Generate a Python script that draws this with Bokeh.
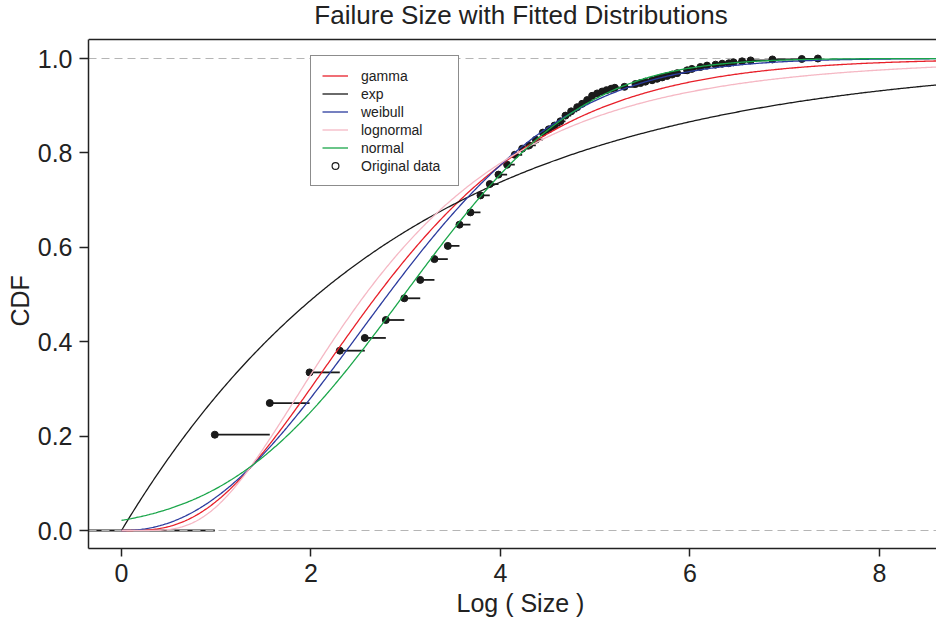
import math
import numpy as np
from bokeh.plotting import figure
from bokeh.models import (Range1d, FixedTicker, Legend, LegendItem,
                          Title, Label, NumeralTickFormatter, ColumnDataSource)
from bokeh.embed import file_html
from bokeh.resources import INLINE

# ---------------- data ----------------
TITLE = "Failure Size with Fitted Distributions"
X_LABEL = "Log ( Size )"
Y_LABEL = "CDF"
X_TICKS = [0, 2, 4, 6, 8]
Y_TICKS = [0.0, 0.2, 0.4, 0.6, 0.8, 1.0]

# empirical CDF of log(size)
data_x = [0.985, 1.565, 1.985, 2.304, 2.568, 2.790, 2.985, 3.153, 3.303, 3.444,
          3.567, 3.683, 3.789, 3.887, 3.979, 4.070, 4.151, 4.229, 4.303, 4.373,
          4.447, 4.510, 4.570, 4.633, 4.686, 4.746, 4.810, 4.862, 4.915, 4.967,
          5.020, 5.073, 5.119, 5.168, 5.207, 5.309, 5.425, 5.478, 5.530, 5.600,
          5.654, 5.707, 5.760, 5.812, 5.865, 5.970, 6.020, 6.110, 6.180, 6.270,
          6.340, 6.410, 6.460, 6.550, 6.640, 6.870, 7.180, 7.350]
data_y = [0.203, 0.270, 0.335, 0.381, 0.408, 0.446, 0.492, 0.531, 0.575, 0.603,
          0.648, 0.674, 0.710, 0.734, 0.754, 0.775, 0.796, 0.809, 0.816, 0.828,
          0.843, 0.850, 0.858, 0.867, 0.879, 0.888, 0.897, 0.904, 0.912, 0.921,
          0.926, 0.930, 0.933, 0.936, 0.938, 0.940, 0.946, 0.948, 0.951, 0.954,
          0.957, 0.960, 0.963, 0.966, 0.969, 0.975, 0.978, 0.982, 0.985, 0.987,
          0.989, 0.990, 0.992, 0.994, 0.996, 0.998, 0.999, 1.000]

dist_names = ["gamma", "exp", "weibull", "lognormal", "normal"]
dist_colors = ["#e8202a", "#1a1a1a", "#2b3b9e", "#f5b8c4", "#1aa64a"]

# fitted parameters
gamma_shape, gamma_rate = 3.5, 1.173
exp_rate = 0.335
weibull_shape, weibull_scale = 2.17, 3.33
lnorm_meanlog, lnorm_sdlog = 0.945, 0.576
norm_mean, norm_sd = 2.984, 1.473

# plotting box (R-style box) limits
X_MIN, X_MAX = -0.3483, 8.602
Y_MIN, Y_MAX = -0.0381, 1.0403
Y_TOP = 1.1229          # canvas top (room for the title inside the frame)
CURVE_END = 8.71


# ---------------- distribution CDFs ----------------
def gamma_cdf(x, a, rate):
    z = rate * x
    if z <= 0:
        return 0.0
    term = 1.0 / a
    s = term
    n = 1
    while n < 1000:
        term *= z / (a + n)
        s += term
        if term < 1e-14 * s:
            break
        n += 1
    return math.exp(a * math.log(z) - z - math.lgamma(a)) * s


def exp_cdf(x, rate):
    return 1.0 - math.exp(-rate * x) if x > 0 else 0.0


def weibull_cdf(x, k, lam):
    return 1.0 - math.exp(-((x / lam) ** k)) if x > 0 else 0.0


def lnorm_cdf(x, m, s):
    if x <= 0:
        return 0.0
    return 0.5 * (1.0 + math.erf((math.log(x) - m) / (s * math.sqrt(2.0))))


def norm_cdf(x, m, s):
    return 0.5 * (1.0 + math.erf((x - m) / (s * math.sqrt(2.0))))


grid = np.linspace(0.0, CURVE_END, 600)
curves = [
    [gamma_cdf(v, gamma_shape, gamma_rate) for v in grid],
    [exp_cdf(v, exp_rate) for v in grid],
    [weibull_cdf(v, weibull_shape, weibull_scale) for v in grid],
    [lnorm_cdf(v, lnorm_meanlog, lnorm_sdlog) for v in grid],
    [norm_cdf(v, norm_mean, norm_sd) for v in grid],
]

# ---------------- figure ----------------
FONT = "Liberation Sans"
TXT = "#222222"

p = figure(width=936, height=626, output_backend="svg", toolbar_location=None,
           title=None,
           x_range=Range1d(X_MIN, X_MAX), y_range=Range1d(Y_MIN, Y_TOP),
           min_border_left=88, min_border_right=0, min_border_top=0,
           min_border_bottom=78)
p.outline_line_color = None
p.xgrid.visible = False
p.ygrid.visible = False
p.background_fill_color = "white"
p.border_fill_color = "white"

for ax in (p.xaxis[0], p.yaxis[0]):
    ax.axis_line_color = TXT
    ax.axis_line_width = 1.5
    ax.major_tick_line_color = TXT
    ax.major_tick_line_width = 1.5
    ax.major_tick_in = 0
    ax.minor_tick_line_color = None
    ax.major_label_text_font = FONT
    ax.major_label_text_font_size = "25px"
    ax.major_label_text_color = TXT

p.xaxis[0].ticker = FixedTicker(ticks=X_TICKS)
p.xaxis[0].major_tick_out = 8
p.xaxis[0].major_label_standoff = 7

p.yaxis[0].ticker = FixedTicker(ticks=Y_TICKS)
p.yaxis[0].bounds = (Y_MIN, Y_MAX)
p.yaxis[0].formatter = NumeralTickFormatter(format="0.0")
p.yaxis[0].major_tick_out = 9
p.yaxis[0].major_label_standoff = 7
p.yaxis[0].major_label_orientation = "horizontal"

ylab = Title(text=Y_LABEL, text_font=FONT, text_font_size="25px",
             text_font_style="normal", text_color=TXT, align="left",
             offset=222, standoff=2)
p.add_layout(ylab, "left")

xlab = Title(text=X_LABEL, text_font=FONT, text_font_size="25px",
             text_font_style="normal", text_color=TXT, align="left",
             offset=368, standoff=5)
p.add_layout(xlab, "below")

# chart title (screen pixels from the frame's bottom-left corner)
title_lbl = Label(x=432.5, y=534, x_units="screen", y_units="screen",
                  text=TITLE, text_font=FONT, text_font_size="26px",
                  text_color=TXT, text_align="center", text_baseline="middle")
p.add_layout(title_lbl)

# top side of the box
p.line(x=[X_MIN, X_MAX], y=[Y_MAX, Y_MAX], line_color=TXT, line_width=1.5)

# ECDF: initial flat part at 0
p.segment(x0=[X_MIN], y0=[0.0], x1=[data_x[0]], y1=[0.0],
          line_color="#1a1a1a", line_width=1.8)

# reference dashed lines at 0 and 1
for yy in (0.0, 1.0):
    p.line(x=[X_MIN, X_MAX], y=[yy, yy], line_color="#b5b5b5",
           line_width=1.2, line_dash="8 5")

# ECDF steps
step_src = ColumnDataSource(dict(x0=data_x[:-1], x1=data_x[1:], y=data_y[:-1]))
p.segment(x0="x0", y0="y", x1="x1", y1="y", source=step_src,
          line_color="#1a1a1a", line_width=1.8)
p.scatter(x=data_x, y=data_y, size=7, marker="circle",
          fill_color="#1a1a1a", line_color="#1a1a1a")

# fitted curves
renderers = []
for name, col, yy in zip(dist_names, dist_colors, curves):
    r = p.line(x=list(grid), y=yy, line_color=col, line_width=1.3)
    renderers.append(r)

# legend dummy for original data (open circle), placed outside visible range
dummy = p.scatter(x=[-10], y=[-10], size=5, marker="circle",
                  fill_color=None, line_color="#1a1a1a", line_width=1.2)

items = [LegendItem(label=n, renderers=[r]) for n, r in zip(dist_names, renderers)]
items.append(LegendItem(label="Original data", renderers=[dummy]))
leg = Legend(items=items, location=(222, 362), padding=11, margin=0,
             spacing=1, glyph_width=26, glyph_height=17, label_height=17,
             label_width=86, label_standoff=13,
             label_text_font=FONT, label_text_font_size="14px",
             label_text_color=TXT, border_line_color="#1a1a1a",
             border_line_width=1.2, background_fill_color="white",
             background_fill_alpha=1.0)
p.add_layout(leg, "center")

open("out.html", "w").write(file_html(p, INLINE))
